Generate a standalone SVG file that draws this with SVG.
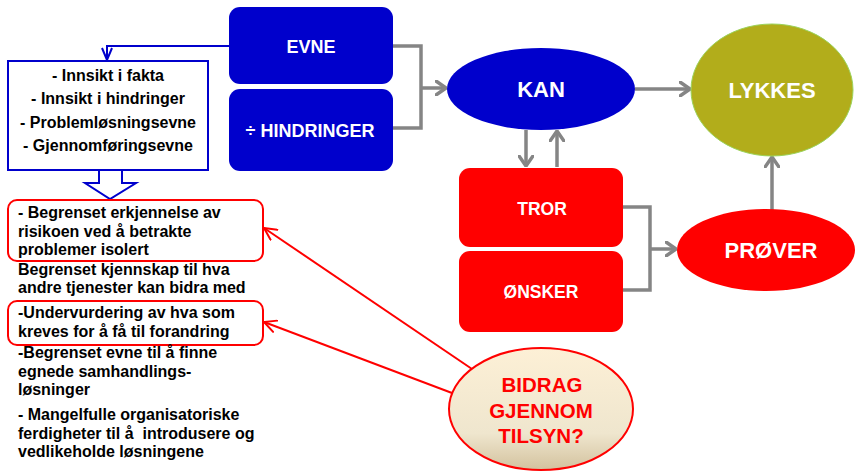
<svg xmlns="http://www.w3.org/2000/svg" width="855" height="471" viewBox="0 0 855 471">
<defs>
<style>
.t{font-family:"Liberation Sans",Arial,sans-serif;font-weight:bold}
.w{fill:#fff;text-anchor:middle}
.k{fill:#000;font-size:16px}
.gc{fill:none;stroke:#858585;stroke-width:3.5}
.rc{fill:none;stroke:#FF0000;stroke-width:2}
</style>
<marker id="ga" viewBox="0 0 12 16" refX="11" refY="8" markerWidth="12" markerHeight="16" markerUnits="userSpaceOnUse" orient="auto">
<path d="M1,1 L11,8 L1,15" fill="none" stroke="#858585" stroke-width="3.5" stroke-linecap="round" stroke-linejoin="round"/>
</marker>
<marker id="ra" viewBox="0 0 14 14" refX="13" refY="7" markerWidth="14" markerHeight="14" markerUnits="userSpaceOnUse" orient="auto">
<path d="M1,1 L13,7 L1,13" fill="none" stroke="#FF0000" stroke-width="2" stroke-linecap="round"/>
</marker>
<marker id="ba" viewBox="0 0 14 12" refX="13" refY="6" markerWidth="14" markerHeight="12" markerUnits="userSpaceOnUse" orient="auto">
<path d="M1,1 L13,6 L1,11" fill="none" stroke="#0000CC" stroke-width="2"/>
</marker>
<linearGradient id="bg" x1="0" y1="0" x2="0" y2="1">
<stop offset="0" stop-color="#FDF0D6"/>
<stop offset="0.7" stop-color="#EFE6CE"/>
<stop offset="1" stop-color="#D3C29E"/>
</linearGradient>
</defs>

<g id="connectors">
<polyline class="gc" points="393,46 421,46 421,128 393,128"/>
<line class="gc" x1="421" y1="88" x2="446" y2="88" marker-end="url(#ga)"/>
<line class="gc" x1="635" y1="89" x2="690" y2="89" marker-end="url(#ga)"/>
<line class="gc" x1="526" y1="130" x2="526" y2="166" marker-end="url(#ga)"/>
<line class="gc" x1="557" y1="167" x2="557" y2="131" marker-end="url(#ga)"/>
<polyline class="gc" points="623,207 650,207 650,290 623,290"/>
<line class="gc" x1="650" y1="249" x2="676" y2="249" marker-end="url(#ga)"/>
<line class="gc" x1="772" y1="210" x2="772" y2="157" marker-end="url(#ga)"/>
<polyline fill="none" stroke="#0000CC" stroke-width="2" points="229,46 107,46 107,60" marker-end="url(#ba)"/>
<polygon points="99,170 99,183 85,183 110,199 136,183 122,183 122,170" fill="#fff" stroke="#0000CC" stroke-width="2"/>
<line class="rc" x1="472" y1="369" x2="264" y2="228" marker-end="url(#ra)"/>
<line class="rc" x1="452" y1="393" x2="264" y2="322" marker-end="url(#ra)"/>
</g>

<g id="evne">
<rect x="229" y="7" width="164" height="77" rx="11" fill="#0000CC"/>
<text class="t w" x="311" y="53" font-size="18">EVNE</text>
</g>
<g id="hindringer">
<rect x="229" y="89" width="164" height="82" rx="11" fill="#0000CC"/>
<text class="t w" x="310" y="137" font-size="18">÷ HINDRINGER</text>
</g>
<g id="kan">
<ellipse cx="541" cy="89" rx="94" ry="41" fill="#0000CC"/>
<text class="t w" x="541" y="97" font-size="22">KAN</text>
</g>
<g id="lykkes">
<ellipse cx="772" cy="90" rx="81" ry="66" fill="#B2AD1B" stroke="#9BD35A" stroke-width="1"/>
<text class="t w" x="772" y="98" font-size="22">LYKKES</text>
</g>
<g id="tror">
<rect x="459" y="168" width="164" height="79" rx="11" fill="#FF0000"/>
<text class="t w" x="542" y="215" font-size="17.5">TROR</text>
</g>
<g id="onsker">
<rect x="459" y="251" width="164" height="81" rx="11" fill="#FF0000"/>
<text class="t w" x="541" y="298" font-size="17.5">ØNSKER</text>
</g>
<g id="prover">
<ellipse cx="766" cy="250" rx="89" ry="41" fill="#FF0000"/>
<text class="t w" x="771" y="258" font-size="22">PRØVER</text>
</g>
<g id="bidrag">
<ellipse cx="541" cy="409" rx="92" ry="61" fill="url(#bg)" stroke="#FF0000" stroke-width="2"/>
<text class="t" x="542" y="392" font-size="20.5" fill="#FF0000" text-anchor="middle">BIDRAG</text>
<text class="t" x="541" y="418" font-size="20.5" fill="#FF0000" text-anchor="middle">GJENNOM</text>
<text class="t" x="541" y="443" font-size="20.5" fill="#FF0000" text-anchor="middle">TILSYN?</text>
</g>
<g id="evner-liste">
<rect x="8" y="61" width="200" height="109" fill="#fff" stroke="#0000CC" stroke-width="2"/>
<text class="t k" x="108" y="81" text-anchor="middle">- Innsikt i fakta</text>
<text class="t k" x="108" y="104" text-anchor="middle">- Innsikt i hindringer</text>
<text class="t k" x="108" y="128" text-anchor="middle">- Problemløsningsevne</text>
<text class="t k" x="108" y="151" text-anchor="middle">- Gjennomføringsevne</text>
</g>
<g id="begrenset-erkjennelse">
<rect x="8" y="200" width="255" height="61" rx="9" fill="none" stroke="#FF0000" stroke-width="2"/>
<text class="t k" x="18" y="218">- Begrenset erkjennelse av</text>
<text class="t k" x="18" y="237">risikoen ved å betrakte</text>
<text class="t k" x="18" y="255">problemer isolert</text>
</g>
<g id="begrenset-kjennskap">
<text class="t k" x="18" y="275">Begrenset kjennskap til hva</text>
<text class="t k" x="18" y="293">andre tjenester kan bidra med</text>
</g>
<g id="undervurdering">
<rect x="8" y="301" width="255" height="44" rx="9" fill="none" stroke="#FF0000" stroke-width="2"/>
<text class="t k" x="18" y="318">-Undervurdering av hva som</text>
<text class="t k" x="18" y="337">kreves for å få til forandring</text>
</g>
<g id="begrenset-evne">
<text class="t k" x="18" y="358">-Begrenset evne til å finne</text>
<text class="t k" x="18" y="377">egnede samhandlings-</text>
<text class="t k" x="18" y="395">løsninger</text>
</g>
<g id="mangelfulle">
<text class="t k" x="18" y="420">- Mangelfulle organisatoriske</text>
<text class="t k" x="18" y="439" xml:space="preserve">ferdigheter til å  introdusere og</text>
<text class="t k" x="18" y="457">vedlikeholde løsningene</text>
</g>
</svg>
